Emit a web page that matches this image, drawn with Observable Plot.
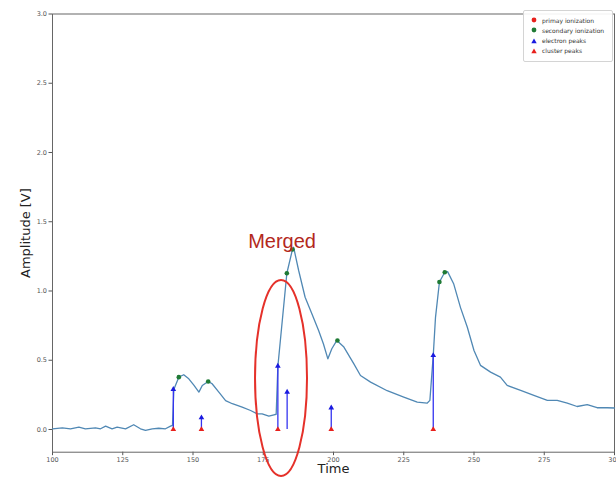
<!DOCTYPE html>
<html>
<head>
<meta charset="utf-8">
<script src="https://cdn.jsdelivr.net/npm/d3@7"></script>
<script src="https://cdn.jsdelivr.net/npm/@observablehq/plot@0.6"></script>
<style>
  body { margin: 0; background: #fff; }
  #wrap { position: relative; width: 616px; height: 478px; overflow: hidden; }
  .legend { position: absolute; left: 523px; top: 10px; width: 90px; height: 52px; border: 1px solid #d4d4d4; border-radius: 2px;
            background: rgba(255,255,255,0.9); box-sizing: border-box; font-family: "DejaVu Sans"; font-size: 6px; color: #333; }
  .legend .row { position: absolute; left: 0; height: 10px; display: flex; align-items: center; }
  .legend svg { margin-left: 7px; margin-right: 5px; }
</style>
</head>
<body>
<div id="wrap"></div>
<script>
// ---- waveform (time, amplitude) ----
const waveTime = [100.0, 103.5, 106.4, 109.4, 111.7, 115.3, 117.1, 118.9, 121.2, 123.0, 126.0, 128.9, 131.3, 133.1, 135.5, 137.8, 140.2, 142.0, 142.7,
  143.2, 144.95, 146.7, 148.5, 150.3, 152.1, 153.3, 155.4, 156.8, 159.2, 161.6, 164.0, 167.5, 170.5, 172.9, 174.6, 177.0, 178.8, 179.6,
  180.2, 183.4, 185.4, 185.8, 187.6, 189.9, 192.3, 194.7, 196.4, 198.0, 199.4, 201.2, 203.7, 207.2, 209.6, 213.2, 219.1, 225.0, 229.8, 233.3, 234.3,
  235.5, 236.3, 237.7, 239.6, 240.6, 242.8, 245.2, 247.6, 250.0, 252.3, 255.9, 259.4, 261.8, 266.6, 271.3, 276.1, 279.6, 283.2, 286.7, 290.3, 293.8, 297.4, 300.0];
const waveAmp = [0.005, 0.012, 0.005, 0.017, 0.005, 0.012, 0.005, 0.024, 0.005, 0.017, 0.005, 0.034, 0.005, -0.007, 0.005, 0.009, 0.005, 0.024, 0.03,
  0.29, 0.378, 0.395, 0.366, 0.32, 0.27, 0.318, 0.347, 0.33, 0.27, 0.209, 0.186, 0.161, 0.137, 0.113, 0.113, 0.096, 0.106, 0.11,
  0.455, 1.128, 1.30, 1.316, 1.148, 0.955, 0.835, 0.715, 0.619, 0.51, 0.583, 0.643, 0.595, 0.475, 0.39, 0.342, 0.28, 0.233, 0.197, 0.19, 0.21,
  0.535, 0.81, 1.065, 1.135, 1.14, 1.05, 0.88, 0.74, 0.57, 0.463, 0.414, 0.378, 0.318, 0.282, 0.246, 0.21, 0.21, 0.19, 0.166, 0.18, 0.157, 0.157, 0.155];

// ---- detected points ----
const primaryTime = [];
const primaryAmp = [];
const secondaryTime = [144.95, 155.4, 183.4, 185.4, 201.4, 237.7, 239.6];
const secondaryAmp = [0.378, 0.347, 1.128, 1.30, 0.643, 1.065, 1.135];
const electronTime = [143.0, 153.0, 180.2, 183.5, 199.2, 235.5];
const electronAmp = [0.29, 0.085, 0.458, 0.27, 0.157, 0.535];
const clusterTime = [143.0, 153.0, 180.2, 199.2, 235.5];
const clusterAmp = [0, 0, 0, 0, 0];

// ---- axes ----
const xTicks = [100, 125, 150, 175, 200, 225, 250, 275, 300];
const yTicks = [0.0, 0.5, 1.0, 1.5, 2.0, 2.5, 3.0];
const xLabel = "Time";
const yLabel = "Amplitude [V]";

// ---- legend ----
const legendLabels = ["primay ionization", "secondary ionization", "electron peaks", "cluster peaks"];
const legendColors = ["#e8201c", "#1f7a35", "#1a1ae0", "#e8201c"];
const legendSymbols = ["circle", "circle", "triangle", "triangle"];

// ---- annotation ----
const annotationText = ["Merged"];
const annotationTime = [181.7];
const annotationAmp = [1.357];
const ellipseCenterTime = 181.5, ellipseCenterAmp = 0.368, ellipseHalfTime = 9.25, ellipseHalfAmp = 0.708;

const zip = (ts, vs) => ts.map((t, i) => ({t, v: vs[i]}));
const wave = zip(waveTime, waveAmp);
const secondary = zip(secondaryTime, secondaryAmp);
const primary = zip(primaryTime, primaryAmp);
const electron = zip(electronTime, electronAmp);
const cluster = zip(clusterTime, clusterAmp);
const annot = annotationText.map((s, i) => ({s, t: annotationTime[i], v: annotationAmp[i]}));

function ellipseMark(index, scales) {
  const cx = scales.x(ellipseCenterTime), cy = scales.y(ellipseCenterAmp);
  const rx = Math.abs(scales.x(ellipseCenterTime + ellipseHalfTime) - cx);
  const ry = Math.abs(scales.y(ellipseCenterAmp + ellipseHalfAmp) - cy);
  const e = document.createElementNS("http://www.w3.org/2000/svg", "ellipse");
  e.setAttribute("cx", cx); e.setAttribute("cy", cy);
  e.setAttribute("rx", rx); e.setAttribute("ry", ry);
  e.setAttribute("fill", "none"); e.setAttribute("stroke", "#e5312a"); e.setAttribute("stroke-width", 2);
  return e;
}

const chart = Plot.plot({
  width: 616, height: 478,
  marginLeft: 52, marginRight: 2, marginTop: 13.5, marginBottom: 26.3,
  style: {fontFamily: "DejaVu Sans", fontSize: "6.5px", color: "#555", background: "#fff", overflow: "visible"},
  x: {domain: [100, 300], ticks: xTicks, tickFormat: d3.format("d"), tickSize: 3.5, tickPadding: 2, label: null},
  y: {domain: [-0.164, 3.0], ticks: yTicks, tickFormat: d3.format(".1f"), tickSize: 3.5, tickPadding: 2, label: null},
  marks: [
    Plot.frame({stroke: "#666"}),
    Plot.line(wave, {x: "t", y: "v", stroke: "#5088b4", strokeWidth: 1.3}),
    Plot.ruleX(electron, {x: "t", y1: 0, y2: "v", stroke: "#3434f0", strokeWidth: 1.3}),
    Plot.dot(electron, {x: "t", y: "v", symbol: "triangle", r: 2.1, fill: "#1a1ae0"}),
    Plot.dot(cluster, {x: "t", y: "v", symbol: "triangle", r: 2.1, fill: "#e8201c"}),
    Plot.dot(primary, {x: "t", y: "v", r: 2.3, fill: "#e8201c"}),
    Plot.dot(secondary, {x: "t", y: "v", r: 2.3, fill: "#1f7a35"}),
    ellipseMark,
    Plot.text(annot, {x: "t", y: "v", text: "s", fontSize: 20, fontFamily: "Liberation Sans", fill: "#b3281c", textAnchor: "middle"}),
    Plot.text([xLabel], {frameAnchor: "bottom", dy: 20.5, fontSize: 13, fill: "#222", textAnchor: "middle"}),
    Plot.text([yLabel], {frameAnchor: "left", dx: -27, rotate: -90, fontSize: 13, fill: "#222", textAnchor: "middle"})
  ]
});

const wrap = document.getElementById("wrap");
wrap.appendChild(chart);

// legend overlay
const leg = document.createElement("div");
leg.className = "legend";
legendLabels.forEach((lab, i) => {
  const row = document.createElement("div");
  row.className = "row";
  row.style.top = (4 + i * 10.3) + "px";
  const sym = legendSymbols[i] === "circle"
    ? `<circle cx="3" cy="3" r="2.4" fill="${legendColors[i]}"/>`
    : `<path d="M3,0.4 L5.7,5.2 L0.3,5.2 Z" fill="${legendColors[i]}"/>`;
  row.innerHTML = `<svg width="6" height="6">${sym}</svg><span>${lab}</span>`;
  leg.appendChild(row);
});
wrap.appendChild(leg);
</script>
</body>
</html>
